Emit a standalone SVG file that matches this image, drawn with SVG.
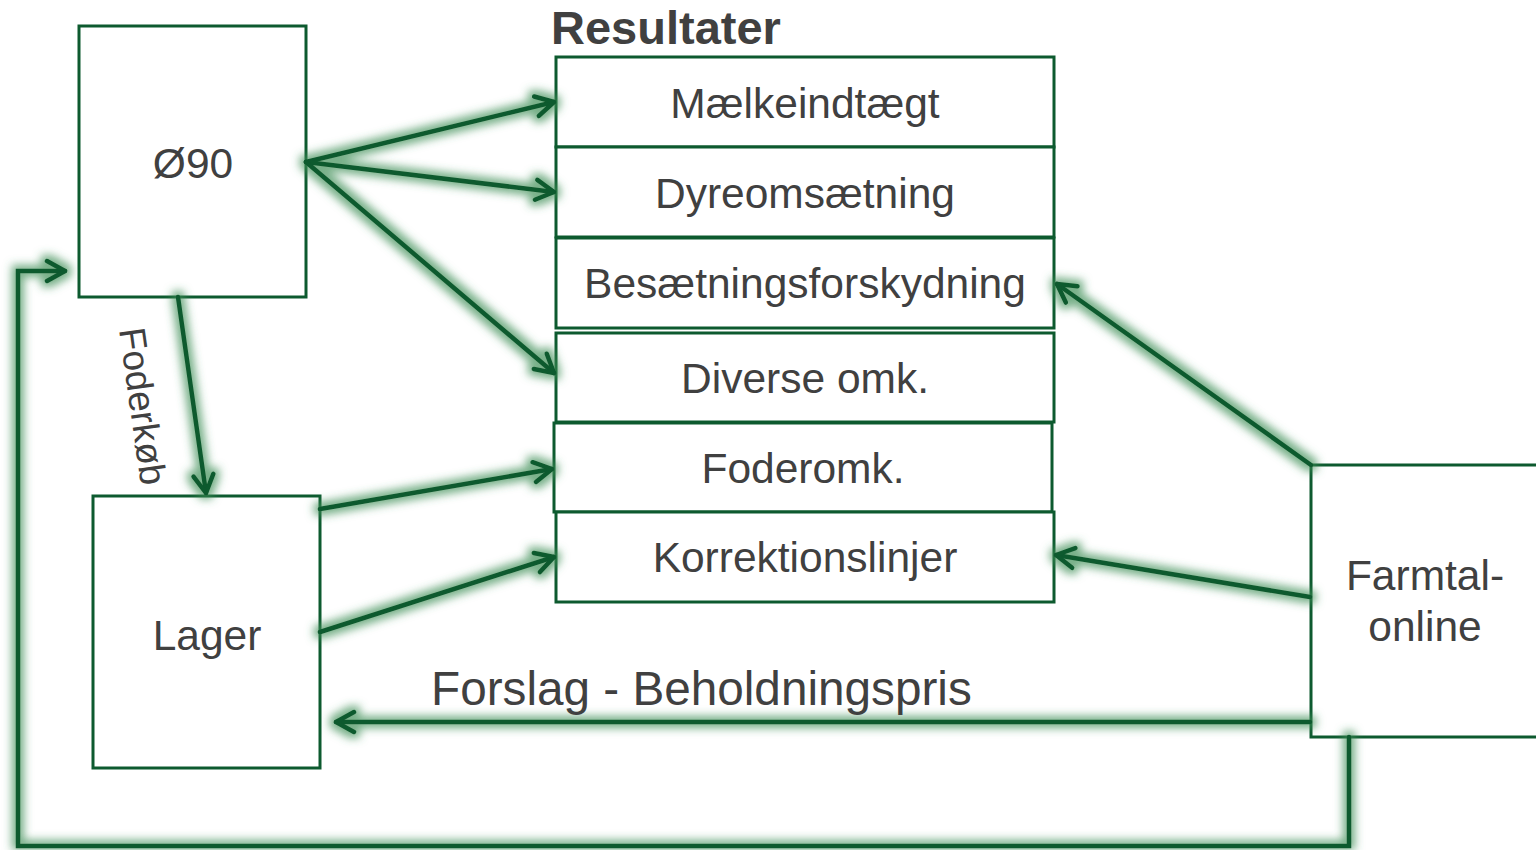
<svg xmlns="http://www.w3.org/2000/svg" width="1536" height="850" viewBox="0 0 1536 850">
<style>
.box{fill:#ffffff;stroke:#0d5a2f;stroke-width:3}
.t{font-family:"Liberation Sans",Arial,sans-serif;font-size:42.5px;fill:#404040;text-anchor:middle}
.c{fill:none;stroke:#0d5a2f;stroke-width:4.5;stroke-linecap:round;stroke-linejoin:miter}
</style>
<defs>
<marker id="arr" markerUnits="userSpaceOnUse" markerWidth="30" markerHeight="30" refX="21" refY="12" orient="auto" viewBox="0 0 30 24">
<path d="M3,2 L21,12 L3,22" fill="none" stroke="#0d5a2f" stroke-width="4.5" stroke-linecap="round" stroke-linejoin="round"/>
</marker>
<filter id="glow" filterUnits="userSpaceOnUse" x="0" y="0" width="1536" height="850">
<feMorphology in="SourceAlpha" operator="dilate" radius="3.5" result="d"/>
<feGaussianBlur in="d" stdDeviation="4" result="b"/>
<feFlood flood-color="#3f8f57" flood-opacity="0.7"/>
<feComposite in2="b" operator="in" result="g"/>
<feMerge><feMergeNode in="g"/><feMergeNode in="SourceGraphic"/></feMerge>
</filter>
</defs>
<rect width="1536" height="850" fill="#ffffff"/>

<text id="title" x="551" y="44" font-family="'Liberation Sans',Arial,sans-serif" font-size="47" font-weight="bold" fill="#404040">Resultater</text>

<g id="o90"><rect class="box" x="79" y="26" width="227" height="271"/><text class="t" x="193" y="178">Ø90</text></g>
<g id="lager"><rect class="box" x="93" y="496" width="227" height="272"/><text class="t" x="207" y="650">Lager</text></g>
<g id="farmtal"><rect class="box" x="1311" y="465" width="240" height="272"/><text class="t" x="1425" y="590">Farmtal-</text><text class="t" x="1425" y="641">online</text></g>

<g id="maelk"><rect class="box" x="556" y="57" width="498" height="90"/><text class="t" x="805" y="118">Mælkeindtægt</text></g>
<g id="dyre"><rect class="box" x="556" y="147" width="498" height="90"/><text class="t" x="805" y="208">Dyreomsætning</text></g>
<g id="besaet"><rect class="box" x="556" y="238" width="498" height="90"/><text class="t" x="805" y="298">Besætningsforskydning</text></g>
<g id="diverse"><rect class="box" x="556" y="333" width="498" height="89"/><text class="t" x="805" y="393">Diverse omk.</text></g>
<g id="foder"><rect class="box" x="554" y="423" width="498" height="89"/><text class="t" x="803" y="483">Foderomk.</text></g>
<g id="korrek"><rect class="box" x="556" y="512" width="498" height="90"/><text class="t" x="805" y="572">Korrektionslinjer</text></g>

<g id="connectors" filter="url(#glow)">
<line class="c" x1="306" y1="162" x2="554" y2="102" marker-end="url(#arr)"/>
<line class="c" x1="306" y1="162" x2="554" y2="192" marker-end="url(#arr)"/>
<line class="c" x1="306" y1="162" x2="554" y2="373" marker-end="url(#arr)"/>
<line class="c" x1="178" y1="297" x2="206" y2="493" marker-end="url(#arr)"/>
<line class="c" x1="320" y1="509" x2="552" y2="469" marker-end="url(#arr)"/>
<line class="c" x1="320" y1="632" x2="554" y2="557" marker-end="url(#arr)"/>
<line class="c" x1="1310" y1="597" x2="1056" y2="555" marker-end="url(#arr)"/>
<line class="c" x1="1311" y1="465" x2="1057" y2="284" marker-end="url(#arr)"/>
<line class="c" x1="1310" y1="722" x2="336" y2="722" marker-end="url(#arr)"/>
<polyline class="c" points="1349,737 1349,846 18,846 18,271 65,271" marker-end="url(#arr)"/>
</g>

<text id="foderkob" x="130" y="408" transform="rotate(82 130 408)" font-family="'Liberation Sans',Arial,sans-serif" font-size="37" fill="#404040" text-anchor="middle">Foderkøb</text>
<text id="forslag" x="431" y="705" font-family="'Liberation Sans',Arial,sans-serif" font-size="47.7" fill="#404040">Forslag - Beholdningspris</text>
</svg>
